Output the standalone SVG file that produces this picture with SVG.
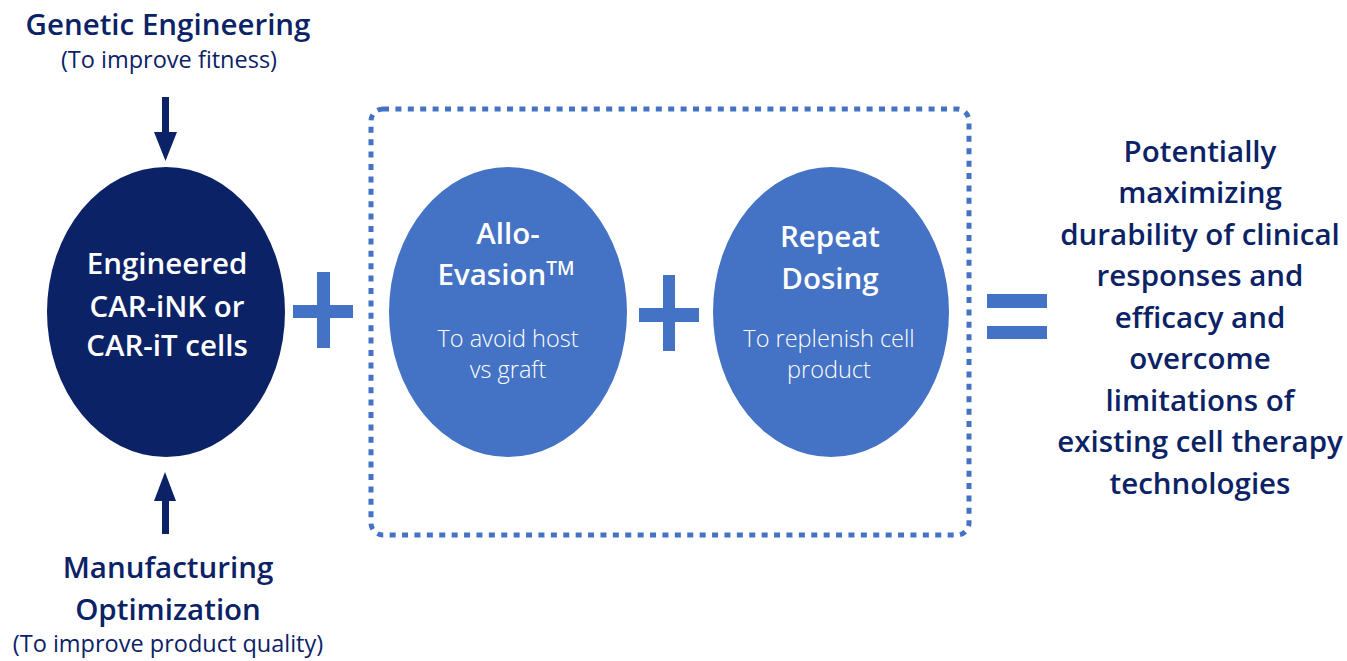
<svg xmlns="http://www.w3.org/2000/svg" width="1347" height="661" viewBox="0 0 1347 661">
<style>
.navy{fill:#0b2266}
.blue{fill:#4472c4}
.t{font-family:"Open Sans","Noto Sans",sans-serif;text-anchor:middle}
.h{font-weight:600;font-size:29.5px}
.sub{font-weight:500;font-size:23.5px}
.w{fill:#ffffff}
.lt{font-weight:300;font-size:23.5px}
.nt{fill:#0b2266}
</style>
<rect width="1347" height="661" fill="#ffffff"/>
<g id="genetic-engineering">
<text class="t h nt" x="168" y="35">Genetic Engineering</text>
<text class="t sub nt" x="169" y="68">(To improve fitness)</text>
</g>
<g id="manufacturing-optimization">
<text class="t h nt" x="168" y="578">Manufacturing</text>
<text class="t h nt" x="168" y="620">Optimization</text>
<text class="t sub nt" x="168" y="652">(To improve product quality)</text>
</g>
<g id="engineered-cells">
<ellipse class="navy" cx="166" cy="312" rx="119" ry="145"/>
<text class="t h w" x="167" y="274">Engineered</text>
<text class="t h w" x="167" y="317">CAR-iNK or</text>
<text class="t h w" x="167" y="356">CAR-iT cells</text>
</g>
<g id="allo-evasion-group">
<rect x="371" y="109" width="598" height="426" rx="12" ry="12" fill="none" stroke="#4472c4" stroke-width="5" stroke-dasharray="6 6.4"/>
</g>
<g id="allo-evasion">
<ellipse class="blue" cx="508" cy="312" rx="119" ry="145"/>
<text class="t h w" x="508" y="244">Allo-</text>
<text class="t h w" x="506" y="285">Evasion<tspan font-size="19" dy="-10">TM</tspan></text>
<text class="t lt w" x="508" y="347">To avoid host</text>
<text class="t lt w" x="508" y="378">vs graft</text>
</g>
<g id="repeat-dosing">
<ellipse class="blue" cx="831" cy="312" rx="118" ry="145"/>
<text class="t h w" x="830" y="247">Repeat</text>
<text class="t h w" x="830" y="289">Dosing</text>
<text class="t lt w" x="829" y="347">To replenish cell</text>
<text class="t lt w" x="829" y="378">product</text>
</g>
<g id="outcome">
<text class="t h nt" x="1200" y="162">Potentially</text>
<text class="t h nt" x="1200" y="203">maximizing</text>
<text class="t h nt" x="1200" y="245">durability of clinical</text>
<text class="t h nt" x="1200" y="286">responses and</text>
<text class="t h nt" x="1200" y="328">efficacy and</text>
<text class="t h nt" x="1200" y="369">overcome</text>
<text class="t h nt" x="1200" y="411">limitations of</text>
<text class="t h nt" x="1200" y="452">existing cell therapy</text>
<text class="t h nt" x="1200" y="494">technologies</text>
</g>
<g id="connectors">
<polygon class="navy" points="162,97 169,97 169,132 177,132 165.5,161 154,132 162,132"/>
<polygon class="navy" points="162,534 169,534 169,501 176,501 165,472 154,501 162,501"/>
<g id="plus1" class="blue">
<rect x="293" y="305" width="60" height="13"/>
<rect x="317" y="272" width="13" height="76"/>
</g>
<g id="plus2" class="blue">
<rect x="639" y="308" width="60" height="14"/>
<rect x="663" y="275" width="12" height="76"/>
</g>
<g id="equals" class="blue">
<rect x="987" y="294" width="60" height="14"/>
<rect x="987" y="326" width="60" height="13"/>
</g>
</g>
</svg>
